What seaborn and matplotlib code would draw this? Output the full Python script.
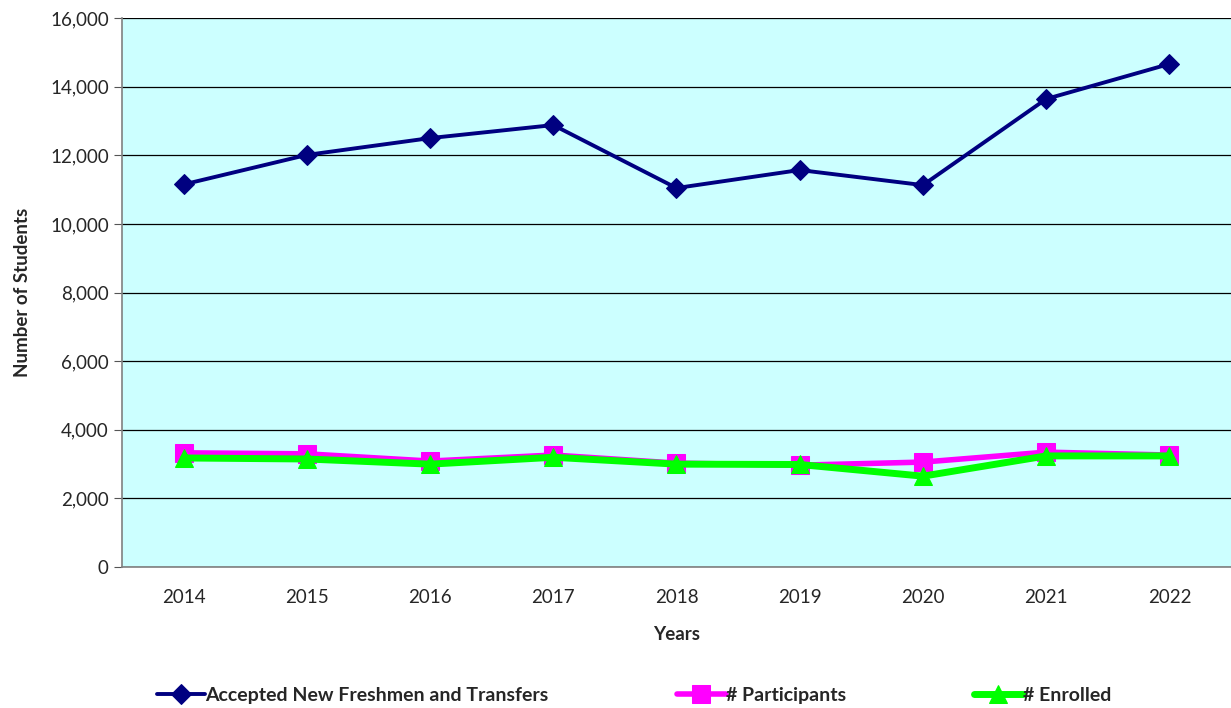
import matplotlib
matplotlib.use("Agg")
import matplotlib.pyplot as plt
import matplotlib.ticker as mticker
import pandas as pd
import numpy as np
import seaborn as sns

# values
years = ["2014", "2015", "2016", "2017", "2018", "2019", "2020", "2021", "2022"]
accepted = [11150, 12010, 12500, 12880, 11045, 11570, 11130, 13640, 14660]
participants = [3330, 3300, 3090, 3265, 3030, 2970, 3060, 3350, 3265]
enrolled = [3180, 3150, 3000, 3200, 3000, 2990, 2650, 3240, 3240]

names = ["Accepted New Freshmen and Transfers", "# Participants", "# Enrolled"]
colors = ["#000080", "#FF00FF", "#00FF00"]
markers = ["D", "s", "^"]
msizes = [10, 13, 13]
lwidths = [2.8, 4, 5]

df = pd.DataFrame({"x": np.arange(len(years)), names[0]: accepted,
                   names[1]: participants, names[2]: enrolled})

sns.set_style("white")
plt.rcParams['font.family'] = ['Lato', 'DejaVu Sans']

fig = plt.figure(figsize=(12.31, 7.08), dpi=100)
ax = fig.add_axes([0.0991, 0.199, 0.9009, 0.7756])
ax.set_facecolor("#CCFFFF")

for name, c, m, ms, lw in zip(names, colors, markers, msizes, lwidths):
    sns.lineplot(data=df, x="x", y=name, color=c, marker=m, markersize=ms,
                 markeredgecolor=c, linewidth=lw, label=name, ax=ax, legend=False)

ax.set_xlim(-0.5, len(years) - 0.5)
ax.set_ylim(0, 16000)
ax.yaxis.set_major_locator(mticker.MultipleLocator(2000))
ax.yaxis.set_major_formatter(mticker.FuncFormatter(lambda v, p: f"{int(v):,}"))
ax.grid(axis="y", color="black", linewidth=0.9)
ax.set_axisbelow(True)

ax.set_xticks(np.arange(len(years)))
ax.set_xticklabels(years)
ax.set_xticks(np.arange(len(years) + 1) - 0.5, minor=True)
ax.tick_params(axis="x", which="major", length=0, pad=16, labelsize=13.5)
ax.tick_params(axis="x", which="minor", length=6, color="#555555", direction="out")
ax.tick_params(axis="y", length=6, color="#555555", direction="out", labelsize=13.5, left=True)

for s in ["top", "right"]:
    ax.spines[s].set_visible(False)
for s in ["left", "bottom"]:
    ax.spines[s].set_color("#808080")
    ax.spines[s].set_linewidth(1.2)

ax.set_xlabel("Years", fontweight="bold", fontsize=13.5, labelpad=14)
ax.set_ylabel("Number of Students", fontweight="bold", fontsize=13.5, labelpad=14)

handles, labels = ax.get_legend_handles_labels()
leg = fig.legend(handles, labels, loc="center", bbox_to_anchor=(0.515, 0.018), ncol=3,
                 frameon=False, columnspacing=6.6, handlelength=2.5, handletextpad=0.0,
                 prop={"weight": "bold", "size": 14})

fig.savefig("out.png", dpi=100)
